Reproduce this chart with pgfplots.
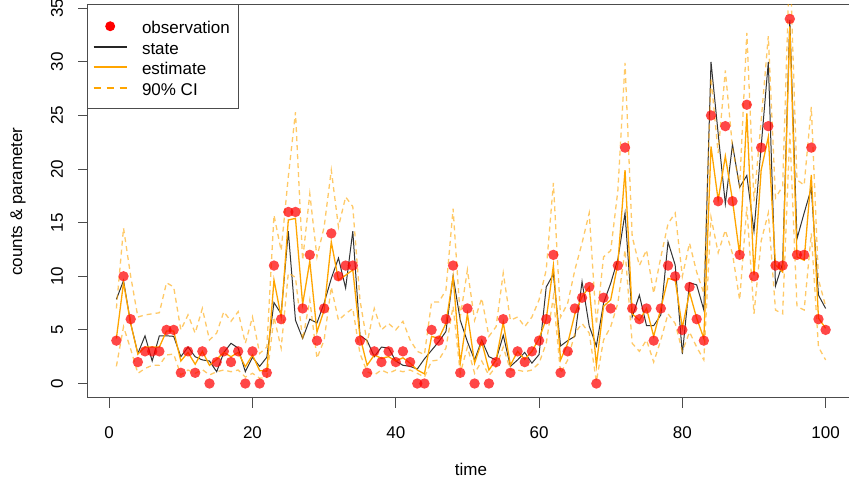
\documentclass[border=0pt]{standalone}
\usepackage{pgfplots}
\pgfplotsset{compat=1.18}
\usepackage{pgfplotstable}
\usepackage{fontspec}
\setmainfont{Liberation Sans}
\definecolor{rorange}{RGB}{255,165,0}
\definecolor{obsred}{RGB}{255,0,0}
\pgfplotstableread{
t obs state est lo hi
1 4 7.85 4.2 1.6 7.0
2 10 9.6 9.4 5.3 14.5
3 6 5.6 5.6 3.2 10.0
4 2 2.8 2.75 0.95 6.2
5 3 4.45 3.4 1.4 6.4
6 3 2.1 3.4 1.7 6.5
7 3 4.45 3.4 1.7 6.6
8 5 4.45 4.9 2.66 9.4
9 5 4.4 4.9 2.75 9.0
10 1 2.5 2.1 0.8 5.0
11 3 3.4 2.9 1.26 6.4
12 1 2.5 1.8 0.95 4.7
13 3 2.2 3.0 1.3 7.0
14 0 2.1 1.7 0.8 4.06
15 2 1.1 2.25 1.1 4.7
16 3 2.9 2.9 1.26 6.7
17 2 3.75 2.5 1.1 5.8
18 3 3.3 2.9 1.26 6.7
19 0 1.1 1.57 0.6 3.75
20 3 2.45 2.66 0.95 6.2
21 0 1.6 1.2 0.5 2.8
22 1 2.45 1.15 0.55 3.4
23 11 7.55 9.65 6.2 15.7
24 6 6.5 6.2 3.3 12.4
25 16 14.2 15.25 10.3 19.3
26 16 5.9 15.4 9.9 25.3
27 7 4.2 7.4 4.06 11.5
28 12 6.0 11.4 7.8 17.7
29 4 5.65 4.8 2.35 11.8
30 7 7.5 6.85 4.06 14.6
31 14 9.8 13.2 9.0 19.9
32 10 11.7 9.65 5.9 14.6
33 11 8.9 10.1 6.5 17.4
34 11 14.2 10.6 7.0 16.5
35 4 4.5 4.4 2.8 7.8
36 1 4.0 1.7 1.1 3.8
37 3 2.5 2.66 0.8 7.0
38 2 3.4 2.35 1.26 5.0
39 3 3.3 2.5 0.95 5.6
40 2 2.1 2.1 1.26 5.0
41 3 1.7 2.4 1.1 5.8
42 2 1.6 1.9 1.26 4.06
43 0 1.35 1.26 0.95 3.0
44 0 2.3 0.9 0.6 2.7
45 5 3.1 4.4 2.1 7.6
46 4 3.9 4.2 2.2 7.6
47 6 4.85 5.6 3.3 8.7
48 11 10.0 9.96 7.2 16.3
49 1 5.9 1.9 0.95 6.2
50 7 3.9 6.5 3.4 10.6
51 0 2.2 1.9 0.95 5.9
52 4 4.05 3.9 2.1 7.95
53 0 2.5 1.26 0.75 4.4
54 2 2.2 2.2 1.57 5.3
55 6 4.5 5.7 3.4 10.3
56 1 1.6 1.7 1.26 5.9
57 3 2.2 3.0 1.26 6.2
58 2 2.9 2.25 1.1 5.3
59 3 1.9 3.0 1.26 6.2
60 4 2.7 4.2 1.9 7.8
61 6 9.0 6.0 3.75 10.6
62 12 10.2 11.0 8.1 18.7
63 1 3.5 2.2 0.95 6.2
64 3 4.0 3.75 2.2 7.5
65 7 4.4 6.5 4.7 10.6
66 8 9.5 8.1 5.6 13.1
67 9 5.36 9.0 4.7 15.9
68 0 3.5 1.7 0.2 5.5
69 8 7.5 7.2 4.06 11.8
70 7 9.35 7.8 5.3 12.4
71 11 11.6 11.2 7.5 18.0
72 22 15.9 19.9 12.45 29.9
73 7 6.2 6.5 3.75 13.7
74 6 8.25 5.9 3.0 11.0
75 7 5.4 7.0 4.06 12.45
76 4 5.4 4.4 2.0 8.4
77 7 6.4 7.0 4.06 11.8
78 11 13.2 9.8 6.5 14.9
79 10 11.05 9.65 5.6 15.9
80 5 2.75 5.2 3.0 10.0
81 9 9.4 8.5 4.8 13.1
82 6 9.2 6.1 3.4 10.4
83 4 6.85 4.2 2.2 8.4
84 25 30.0 22.1 15.5 28.5
85 17 23.3 17.1 12.2 21.5
86 24 16.75 21.2 14.3 29.2
87 17 22.3 17.1 12.1 22.0
88 12 18.3 12.0 7.8 18.4
89 26 19.4 25.2 16.5 32.7
90 10 14.2 10.1 6.5 17.0
91 22 22.1 19.9 13.3 24.5
92 24 30.0 23.0 15.9 32.4
93 11 9.1 11.05 6.85 17.3
94 11 11.2 10.4 6.5 18.4
95 34 33.9 33.3 23.4 40.0
96 12 13.5 11.8 7.2 19.0
97 12 15.9 11.5 6.85 18.5
98 22 18.2 19.45 14.0 25.8
99 6 8.25 6.1 3.4 9.7
100 5 7.0 5.15 2.2 7.2
}\data
\begin{document}
\fontsize{17pt}{20pt}\selectfont
\begin{tikzpicture}
\begin{axis}[
  at={(88pt,86pt)}, anchor=south west,
  scale only axis, width=766pt, height=393pt,
  xmin=-2.96, xmax=103.96, ymin=-1.35, ymax=35.3,
  axis line style={black!70, line width=1pt},
  xtick={0,20,...,100}, ytick={0,5,...,35},
  xtick pos=left, ytick pos=left,
  tick align=outside, major tick length=10pt,
  every tick/.style={black!70, line width=1pt},
  /pgf/number format/assume math mode=true,
  ticklabel style={font=\fontsize{17pt}{20pt}\selectfont},
  xticklabel style={anchor=center},
  yticklabel style={rotate=90, anchor=center},
  xticklabel shift=25pt,
  yticklabel shift=21pt,
  xlabel={time}, ylabel={counts \& parameter},
  label style={font=\fontsize{17pt}{20pt}\selectfont},
  xlabel style={at={(axis description cs:0.5,-0.183)}, anchor=center},
  ylabel style={at={(axis description cs:-0.0914,0.5)}, anchor=center, rotate=0},
  legend style={at={(0,1)}, anchor=north west, draw=black!70, line width=1pt,
    fill=white, outer sep=0pt, inner xsep=4.7pt, inner ysep=11pt,
    font=\fontsize{17pt}{20pt}\selectfont, column sep=14.3pt, row sep=0pt,
    nodes={inner xsep=0pt, inner ysep=2.5pt, text height=15.5pt, text depth=0pt}},
  legend cell align=left,
]
\addplot[only marks, mark=*, mark size=5.2pt, color=obsred, draw opacity=0, fill opacity=0.72,
  legend image code/.code={\fill[obsred, fill opacity=1] (16.5pt,0pt) circle (5pt); \path[draw=none] (0pt,0pt) -- (33pt,0pt);}]
  table[x=t, y=obs] {\data};
\addlegendentry{observation\hspace*{3.7pt}}
\addplot[black!80, line width=1pt, no marks,
  legend image code/.code={\draw[black!85, line width=2pt] (0pt,0pt) -- (33pt,0pt);}]
  table[x=t, y=state] {\data};
\addlegendentry{state}
\addplot[rorange, line width=1.3pt, no marks,
  legend image code/.code={\draw[rorange, line width=2pt] (0pt,0pt) -- (33pt,0pt);}]
  table[x=t, y=est] {\data};
\addlegendentry{estimate}
\addplot[rorange, opacity=0.6, line width=1.3pt, dash pattern=on 5pt off 4pt, no marks,
  legend image code/.code={\draw[rorange, opacity=1, line width=2pt, dash pattern=on 7pt off 6pt] (0pt,0pt) -- (33pt,0pt);}]
  table[x=t, y=lo] {\data};
\addlegendentry{90\% CI}
\addplot[rorange, opacity=0.6, line width=1.3pt, dash pattern=on 5pt off 4pt, no marks, forget plot]
  table[x=t, y=hi] {\data};
\end{axis}
\pgfresetboundingbox
\useasboundingbox (0,0) rectangle (849pt,484pt);
\end{tikzpicture}
\end{document}
